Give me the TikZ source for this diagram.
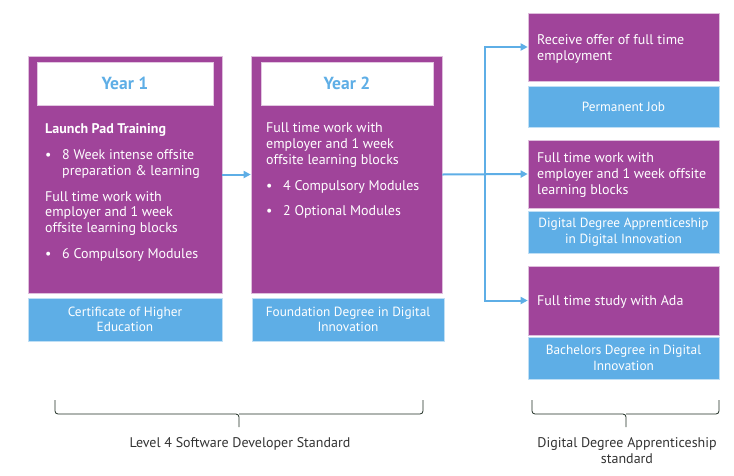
\documentclass[tikz,border=0pt]{standalone}
\usepackage{fontspec}
\setmainfont{PT Sans}
\usetikzlibrary{arrows.meta}

\definecolor{adapurple}{HTML}{A0449A}
\definecolor{adablue}{HTML}{5EAEE6}
\definecolor{bracegreen}{HTML}{1E2D22}

\tikzset{
	stagebox/.style={fill=adapurple, draw=adapurple!35!white, line width=0.6pt, inner sep=0pt},
	titlebox/.style={fill=white, draw=adapurple!30!white, line width=0.6pt, inner sep=0pt,
		text=adablue, font=\fontsize{17.5}{20}\selectfont\bfseries},
	awardbox/.style={fill=adablue, draw=adablue!40!white, line width=0.8pt, inner sep=0pt,
		text=white, align=center, font=\fontsize{13.3}{15.5}\selectfont},
	bodytext/.style={anchor=north west, inner sep=0pt, text=white, align=left,
		font=\fontsize{14}{15.8}\selectfont},
	flow/.style={draw=adablue, line width=2pt, -{Triangle[length=7pt,width=7pt]}},
	bracket/.style={draw=bracegreen, line width=0.8pt, rounded corners=3pt},
	footnote/.style={text=black!80, align=center, font=\fontsize{14}{16.5}\selectfont}
}
\newcommand{\blt}{\makebox[17pt][l]{\textbullet}}
\newcommand{\ind}{\hspace*{17pt}}

\begin{document}
\begin{tikzpicture}[x=1pt, y=-1pt]
	\useasboundingbox (0,0) rectangle (734,475);

	% Year 1
	\node[stagebox, minimum width=194pt, minimum height=237pt] (y1) at (125,174.5) {};
	\node[titlebox, minimum width=176pt, minimum height=43pt] (y1title) at (125,83.5) {Year 1};
	\node[bodytext] (y1text) at (45,123.5) {\textbf{Launch Pad Training}\\[10pt]
		\blt 8 Week intense offsite\\ \ind preparation \& learning\\[10pt]
		Full time work with\\ employer and 1 week\\ offsite learning blocks\\[10pt]
		\blt 6 Compulsory Modules};
	\node[awardbox, minimum width=194pt, minimum height=43pt] (y1award) at (125,319.5)
		{Certificate of Higher\\Education};

	% Year 2
	\node[stagebox, minimum width=191pt, minimum height=237pt] (y2) at (346.5,174.5) {};
	\node[titlebox, minimum width=172pt, minimum height=43pt] (y2title) at (347,83.5) {Year 2};
	\node[bodytext] (y2text) at (266,122.5) {Full time work with\\ employer and 1 week\\
		offsite learning blocks\\[10pt]
		\blt 4 Compulsory Modules\\[10pt]
		\blt 2 Optional Modules};
	\node[awardbox, minimum width=192pt, minimum height=43pt] (y2award) at (348,319.5)
		{Foundation Degree in Digital\\Innovation};

	% Routes after year 2
	\node[stagebox, minimum width=191pt, minimum height=68pt] (offer) at (623.5,47) {};
	\node[bodytext] at (537,34.5) {Receive offer of full time\\ employment};
	\node[awardbox, minimum width=191pt, minimum height=41pt] (job) at (623.5,106.5) {Permanent Job};

	\node[stagebox, minimum width=191pt, minimum height=68pt] (work) at (623.5,174) {};
	\node[bodytext] at (537,152.5) {Full time work with\\ employer and 1 week offsite\\ learning blocks};
	\node[awardbox, minimum width=191pt, minimum height=42pt] (apprentice) at (623.5,232)
		{Digital Degree Apprenticeship\\in Digital Innovation};

	\node[stagebox, minimum width=191pt, minimum height=69pt] (study) at (623.5,300.5) {};
	\node[bodytext] at (537,295.5) {Full time study with Ada};
	\node[awardbox, minimum width=191pt, minimum height=42pt] (bachelor) at (623.5,358)
		{Bachelors Degree in Digital\\Innovation};

	% Arrows
	\coordinate (fork) at (485,174);
	\draw[flow] (y1.east) -- (y2.west);
	\draw[flow] (y2.east) -- (work.west);
	\draw[flow] (fork) |- (offer.west);
	\draw[flow] (fork) |- (study.west);

	% Braces
	\coordinate (lvltip) at (239,427);
	\coordinate (ddatip) at (626,427);
	\draw[bracket] (55,400) -- (55,414) -- (239,414) -- (lvltip);
	\draw[bracket] (423,400) -- (423,414) -- (239,414);
	\draw[bracket] (532,400) -- (532,414) -- (626,414) -- (ddatip);
	\draw[bracket] (719,400) -- (719,414) -- (626,414);

	\node[footnote, anchor=north] (lvl) at (240,434) {Level 4 Software Developer Standard};
	\node[footnote, anchor=north] (dda) at (627,434) {Digital Degree Apprenticeship\\standard};
\end{tikzpicture}
\end{document}
